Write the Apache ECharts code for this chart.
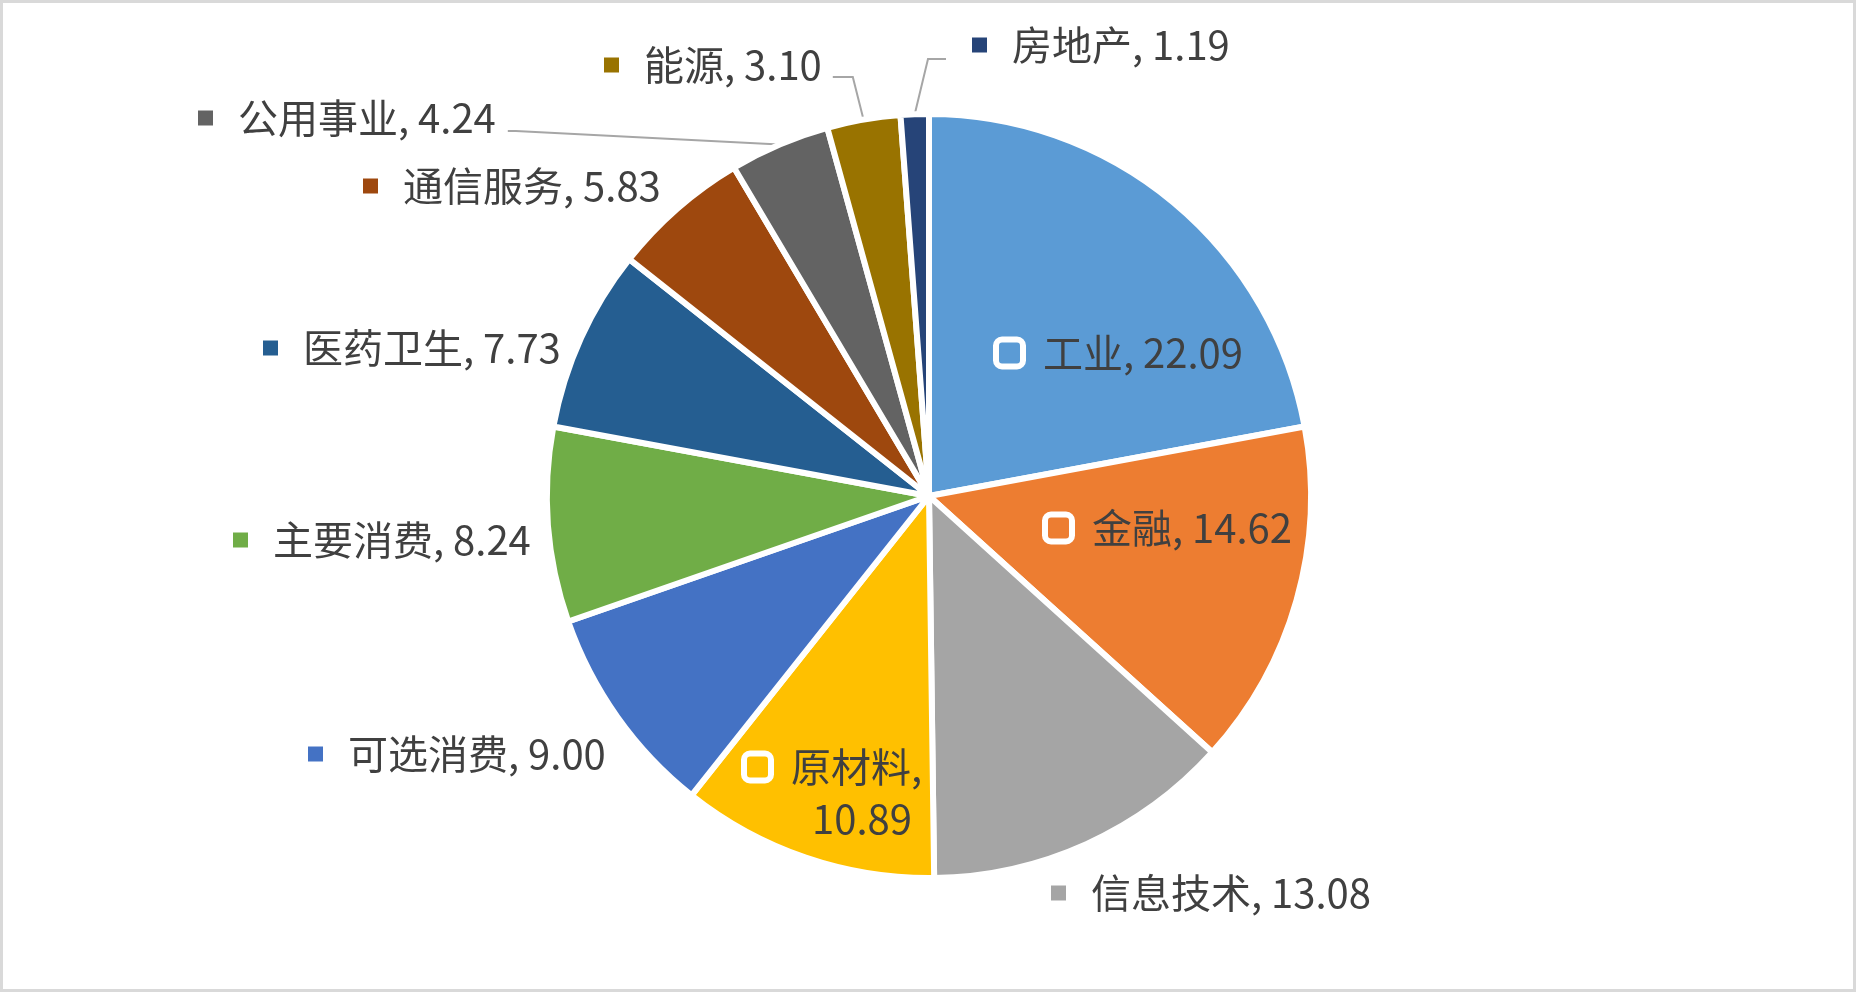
<!DOCTYPE html>
<html>
<head>
<meta charset="utf-8">
<script src="https://cdn.jsdelivr.net/npm/echarts@6/dist/echarts.min.js"></script>
<style>
html,body{margin:0;padding:0;background:#ffffff;}
#chart{position:absolute;left:0;top:0;width:1856px;height:992px;}
#frame{position:absolute;left:0;top:0;width:1856px;height:992px;box-sizing:border-box;border:3px solid #D9D9D9;pointer-events:none;}
</style>
</head>
<body>
<div id="chart"></div>
<div id="frame"></div>
<script>
// ---- data ----
const categories = ['工业', '金融', '信息技术', '原材料', '可选消费', '主要消费', '医药卫生', '通信服务', '公用事业', '能源', '房地产'];
const values = [22.09, 14.62, 13.08, 10.89, 9.00, 8.24, 7.73, 5.83, 4.24, 3.10, 1.19];

// ---- styles / layout (kept apart from the data) ----
const colors = ['#5B9BD5', '#ED7D31', '#A5A5A5', '#FFC000', '#4472C4', '#70AD47', '#255E91', '#9E480E', '#636363', '#997300', '#264478'];
const insideLabels = ['工业', '金融', '原材料'];
const wrappedLabels = ['原材料'];
const labelSpots = [[999, 353], [1048, 528], [1051, 893], [747, 793], [308, 754], [233, 540], [263, 348], [363, 186], [198, 118], [604, 65], [972, 45]];
const leaderShape = {
  '公用事业': { side: 'right', gap: 12, run: 8, dy: 13 },
  '能源': { side: 'right', gap: 11, run: 20, dy: 12 },
  '房地产': { side: 'left', gap: 26, run: 18, dy: 14 }
};
const FONT = "'Noto Sans CJK SC', 'Noto Sans', sans-serif";
const TEXT_COLOR = '#404040';

function labelFor(i) {
  const name = categories[i];
  const inside = insideLabels.includes(name);
  const val = values[i].toFixed(2);
  const key = inside
    ? { width: 21, height: 21, backgroundColor: colors[i], borderColor: '#ffffff', borderWidth: 6, borderRadius: 3 }
    : { width: 15, height: 15, backgroundColor: colors[i] };
  const text = wrappedLabels.includes(name)
    ? '{k|}{sp|}{t|' + name + ',}\n{sp2|}{t|' + val + '}'
    : '{k|}{sp|}{t|' + name + ', ' + val + '}';
  return {
    show: true,
    position: inside ? 'inside' : 'outside',
    overflow: 'none',
    formatter: text,
    rich: {
      k: key,
      sp: { width: inside ? 23 : 25 },
      sp2: { width: 65 },
      t: { fontSize: 40, lineHeight: 52, color: TEXT_COLOR, fontFamily: FONT }
    }
  };
}

const seriesData = categories.map(function (name, i) {
  return {
    name: name,
    value: values[i],
    itemStyle: { color: colors[i] },
    label: labelFor(i),
    labelLine: { show: !!leaderShape[name] }
  };
});

const chart = echarts.init(document.getElementById('chart'), null, { renderer: 'canvas' });
chart.setOption({
  animation: false,
  backgroundColor: '#ffffff',
  series: [{
    type: 'pie',
    center: [929, 496],
    radius: 382,
    startAngle: 90,
    clockwise: true,
    avoidLabelOverlap: false,
    emphasis: { disabled: true },
    itemStyle: { borderColor: '#ffffff', borderWidth: 6 },
    label: { show: true, fontFamily: FONT, color: TEXT_COLOR },
    labelLine: { show: false, length: 20, length2: 10, lineStyle: { color: '#A6A6A6', width: 2 } },
    labelLayout: function (p) {
      const i = p.dataIndex;
      const x = labelSpots[i][0], y = labelSpots[i][1];
      const out = { x: x, y: y, align: 'left', verticalAlign: 'middle' };
      const shape = leaderShape[categories[i]];
      if (shape && p.labelLinePoints) {
        const start = p.labelLinePoints[0];
        let end, bend;
        if (shape.side === 'left') {
          end = [x - shape.gap, y + shape.dy];
          bend = [end[0] - shape.run, y + shape.dy];
        } else {
          const right = x + p.labelRect.width;
          end = [right + shape.gap, y + shape.dy];
          bend = [end[0] + shape.run, y + shape.dy];
        }
        out.labelLinePoints = [start, bend, end];
      }
      return out;
    },
    data: seriesData
  }]
});
</script>
</body>
</html>
